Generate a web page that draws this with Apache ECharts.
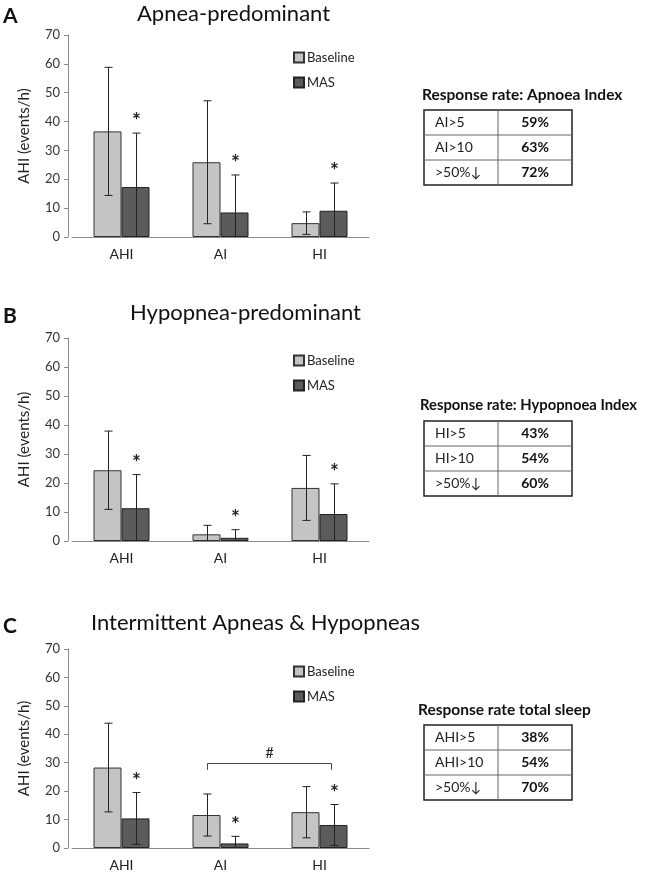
<!DOCTYPE html>
<html><head><meta charset="utf-8">
<script src="https://cdn.jsdelivr.net/npm/echarts@6/dist/echarts.min.js"></script>
<style>html,body{margin:0;padding:0;background:#fff}#c{width:647px;height:872px}</style>
</head><body><div id="c"></div>
<script>
// ---- data ----
const categories = ['AHI', 'AI', 'HI'];
const yTicks = [0, 10, 20, 30, 40, 50, 60, 70];
const panelLetters = ['A', 'B', 'C'];
const panelTitles = ['Apnea-predominant', 'Hypopnea-predominant', 'Intermittent Apneas & Hypopneas'];
// Panel A
const baseA = [36.6, 25.9, 4.8];
const baseA_sd = [22.2, 21.3, 3.9];
const masA = [17.3, 8.5, 9.1];
const masA_sd = [18.7, 13.0, 9.6];
// Panel B
const baseB = [24.4, 2.3, 18.3];
const baseB_sd = [13.5, 3.1, 11.2];
const masB = [11.3, 1.1, 9.3];
const masB_sd = [11.6, 2.8, 10.4];
// Panel C
const baseC = [28.3, 11.6, 12.6];
const baseC_sd = [15.6, 7.4, 9.0];
const masC = [10.4, 1.6, 8.1];
const masC_sd = [9.1, 2.5, 7.2];
// significance markers on MAS bars
const starA = [1, 1, 1];
const starB = [1, 1, 1];
const starC = [1, 1, 1];
// bracket in panel C: from AI (baseline) to HI (MAS), at value 30
const bracketC = [1, 2, 30, 27.5];
// response-rate tables
const tabTitles = ['Response rate: Apnoea Index', 'Response rate: Hypopnoea Index', 'Response rate total sleep'];
const tabA_labels = ['AI>5', 'AI>10', '>50%\u2193'];
const tabA_values = ['59%', '63%', '72%'];
const tabB_labels = ['HI>5', 'HI>10', '>50%\u2193'];
const tabB_values = ['43%', '54%', '60%'];
const tabC_labels = ['AHI>5', 'AHI>10', '>50%\u2193'];
const tabC_values = ['38%', '54%', '70%'];

// ---- layout ----
const FONT = 'Lato, "Open Sans", sans-serif';
const grids = [
  {left: 72, top: 35, width: 297, height: 202},
  {left: 72, top: 338, width: 297, height: 203},
  {left: 72, top: 649, width: 297, height: 202}
];
const panels = [
  {base: baseA, baseSd: baseA_sd, mas: masA, masSd: masA_sd, star: starA},
  {base: baseB, baseSd: baseB_sd, mas: masB, masSd: masB_sd, star: starB},
  {base: baseC, baseSd: baseC_sd, mas: masC, masSd: masC_sd, star: starC}
];
const BARW = 28;
const baseColor = '#c4c4c4', masColor = '#5b5b5b';

function errRender(sign) {
  return function (params, api) {
    const cat = api.value(0), mean = api.value(1), sd = api.value(2), star = api.value(3);
    const hi = mean + sd, lo = Math.max(0, mean - sd);
    const pH = api.coord([cat, hi]);
    const pL = api.coord([cat, lo]);
    const x = Math.round(pH[0] + sign * BARW / 2) + 0.5;
    const st = {stroke: '#222', lineWidth: 1};
    const ch = [
      {type: 'line', shape: {x1: x, y1: pH[1], x2: x, y2: pL[1]}, style: st},
      {type: 'line', shape: {x1: x - 4, y1: pH[1], x2: x + 4, y2: pH[1]}, style: st}
    ];
    if (lo > 0) ch.push({type: 'line', shape: {x1: x - 4, y1: pL[1], x2: x + 4, y2: pL[1]}, style: st});
    if (star) ch.push({type: 'text', style: {text: '*', x: x, y: pH[1] - 1, textAlign: 'center', textVerticalAlign: 'bottom', font: 'bold 21px ' + FONT, fill: '#222'}});
    return {type: 'group', children: ch};
  };
}

const option = {
  animation: false,
  backgroundColor: '#fff',
  grid: grids,
  xAxis: grids.map((g, i) => ({
    type: 'category', gridIndex: i, data: categories,
    axisLine: {lineStyle: {color: '#8a8a8a', width: 1}},
    axisTick: {show: false},
    axisLabel: {fontSize: 14, color: '#222', fontFamily: FONT, margin: 10}
  })),
  yAxis: grids.map((g, i) => ({
    type: 'value', gridIndex: i, min: 0, max: 70, interval: 10, offset: 4,
    name: 'AHI (events/h)', nameLocation: 'middle', nameRotate: 90, nameGap: 36,
    nameTextStyle: {fontSize: 15, color: '#222', fontFamily: FONT},
    axisLine: {show: true, lineStyle: {color: '#8a8a8a'}},
    axisTick: {show: true, length: 4, lineStyle: {color: '#8a8a8a'}},
    splitLine: {show: false},
    axisLabel: {fontSize: 13, color: '#333', fontFamily: FONT, margin: 8,
      formatter: v => (yTicks.indexOf(v) >= 0 ? String(v) : '')}
  })),
  legend: grids.map((g, i) => ({
    data: ['Baseline', 'MAS'], orient: 'vertical', left: 293, top: g.top + 16, padding: 0,
    itemWidth: 10, itemHeight: 10, itemGap: 12, icon: 'rect', selectedMode: false,
    textStyle: {fontSize: 13, color: '#222', fontFamily: FONT, padding: [0, 0, 0, -2]}
  })),
  title: [
    ...panelLetters.map((t, i) => ({text: t, left: -2, top: [1, 301, 611][i],
      textStyle: {fontSize: 21, fontWeight: 'bold', color: '#111', fontFamily: FONT}})),
    ...panelTitles.map((t, i) => ({text: t, left: [132, 125, 86][i], top: [-2, 297, 607][i],
      textStyle: {fontSize: 22, fontWeight: 'normal', color: '#111', fontFamily: FONT}}))
  ],
  series: []
};

panels.forEach((p, i) => {
  option.series.push({
    name: 'Baseline', type: 'bar', xAxisIndex: i, yAxisIndex: i, data: p.base,
    barWidth: BARW, barGap: '0%',
    itemStyle: {color: baseColor, borderColor: '#333', borderWidth: 1}
  });
  option.series.push({
    name: 'MAS', type: 'bar', xAxisIndex: i, yAxisIndex: i, data: p.mas,
    barWidth: BARW, barGap: '0%',
    itemStyle: {color: masColor, borderColor: '#222', borderWidth: 1}
  });
  option.series.push({
    type: 'custom', xAxisIndex: i, yAxisIndex: i, z: 5,
    data: p.base.map((v, k) => [k, v, p.baseSd[k], 0]),
    renderItem: errRender(-1)
  });
  option.series.push({
    type: 'custom', xAxisIndex: i, yAxisIndex: i, z: 5,
    data: p.mas.map((v, k) => [k, v, p.masSd[k], p.star[k]]),
    renderItem: errRender(1)
  });
});

option.series.push({
  type: 'custom', xAxisIndex: 2, yAxisIndex: 2, z: 5,
  data: [bracketC],
  renderItem: function (params, api) {
    const a = api.coord([api.value(0), api.value(2)]);
    const b = api.coord([api.value(1), api.value(2)]);
    const d = api.coord([api.value(0), api.value(3)]);
    const x1 = Math.round(a[0] - BARW / 2) + 0.5, x2 = Math.round(b[0] + BARW / 2) - 2.5;
    const y = Math.round(a[1]) + 0.5, yd = d[1];
    const st = {stroke: '#444', lineWidth: 1, fill: 'none'};
    return {type: 'group', children: [
      {type: 'polyline', shape: {points: [[x1, yd], [x1, y], [x2, y], [x2, yd]]}, style: st},
      {type: 'text', style: {text: '#', x: (x1 + x2) / 2, y: y - 3, textAlign: 'center', textVerticalAlign: 'bottom', font: '15px ' + FONT, fill: '#222'}}
    ]};
  }
});

// tables as graphics
function table(title, tsize, labels, values, tx, ty, x, y) {
  const W = 148, H = 25, DIV = 74;
  const ch = [{type: 'text', left: tx, top: ty, style: {text: title, font: 'bold ' + tsize + 'px ' + FONT, fill: '#111'}}];
  ch.push({type: 'rect', shape: {x: x, y: y, width: W, height: H * labels.length}, style: {fill: '#fff', stroke: '#222', lineWidth: 1.5}});
  for (let r = 1; r < labels.length; r++) {
    ch.push({type: 'line', shape: {x1: x, y1: y + r * H, x2: x + W, y2: y + r * H}, style: {stroke: '#666', lineWidth: 1}});
  }
  ch.push({type: 'line', shape: {x1: x + DIV, y1: y, x2: x + DIV, y2: y + H * labels.length}, style: {stroke: '#666', lineWidth: 1}});
  labels.forEach((l, r) => {
    ch.push({type: 'text', style: {text: l, x: x + 11, y: y + r * H + H / 2, textVerticalAlign: 'middle', font: '14px ' + FONT, fill: '#222'}});
    ch.push({type: 'text', style: {text: values[r], x: x + DIV + 37, y: y + r * H + H / 2, textAlign: 'center', textVerticalAlign: 'middle', font: 'bold 14px ' + FONT, fill: '#111'}});
  });
  return ch;
}
option.graphic = [
  {type: 'group', children: table(tabTitles[0], 15.5, tabA_labels, tabA_values, 422, 87, 424, 110)},
  {type: 'group', children: table(tabTitles[1], 14.8, tabB_labels, tabB_values, 420, 398, 424, 421)},
  {type: 'group', children: table(tabTitles[2], 15.5, tabC_labels, tabC_values, 418, 702, 424, 725)}
];

const chart = echarts.init(document.getElementById('c'), null, {renderer: 'canvas'});
chart.setOption(option);
</script></body></html>
